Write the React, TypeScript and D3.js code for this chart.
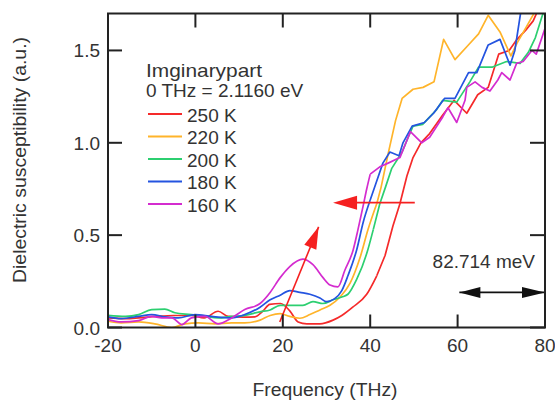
import React from 'react';
import * as d3 from 'd3';

const xTicks = [-20, 0, 20, 40, 60, 80];
const yTicks = [0, 0.5, 1.0, 1.5];
const yTickLabels = ['0.0', '0.5', '1.0', '1.5'];
const legendTitle = ['Imginarypart', '0 THz = 2.1160 eV'];
const seriesNames = ['250 K', '220 K', '200 K', '180 K', '160 K'];
const seriesColors = ['#f52a2a', '#ffb42a', '#2ccf70', '#2454e0', '#d42ccf'];
const xTitle = 'Frequency (THz)';
const yTitle = 'Dielectric susceptibility (a.u.)';
const energyLabel = '82.714 meV';

const k250: [number, number][] = [[-20,0.052],[-16,0.048],[-13,0.052],[-9,0.06],[-5,0.065],[-1,0.065],[2,0.052],[5.2,0.088],[7.5,0.06],[11,0.056],[13.6,0.058],[15.5,0.09],[17,0.125],[19.5,0.13],[21.6,0.09],[23.5,0.03],[25.5,0.02],[28.5,0.02],[31.5,0.04],[33.5,0.065],[36,0.11],[39.2,0.18],[41.5,0.28],[43.4,0.39],[45.2,0.55],[46.8,0.67],[48.4,0.82],[49.8,0.92],[51.6,1.0],[53.6,1.05],[56.6,1.15],[59.2,1.23],[62.1,1.16],[64.6,1.26],[67,1.30],[69.4,1.48],[71.8,1.50],[73.6,1.56],[75.6,1.61],[77.3,1.66],[78.8,1.74]];
const k220: [number, number][] = [[-20,0.034],[-17,0.025],[-13,0.03],[-9.3,0.02],[-5.4,0.0],[-2.4,0.02],[0.7,0.025],[4.5,0.02],[8.3,0.025],[11.3,0.025],[14.8,0.04],[17.1,0.065],[19.4,0.075],[21.6,0.06],[23.9,0.05],[26.2,0.07],[28.5,0.095],[30.8,0.12],[33.1,0.165],[35.4,0.24],[37.7,0.38],[39.5,0.53],[41.5,0.67],[42.5,0.76],[44.1,0.94],[45.8,1.12],[47.3,1.24],[49.8,1.29],[52.1,1.30],[54.6,1.33],[56.8,1.56],[59.4,1.45],[62.1,1.52],[64.8,1.59],[67,1.69],[69.7,1.60],[72.2,1.47],[73.6,1.54],[75.8,1.63],[77.7,1.71],[78.5,1.75]];
const k200: [number, number][] = [[-20,0.066],[-16,0.06],[-13,0.07],[-10,0.097],[-7,0.10],[-4.7,0.08],[-1,0.07],[2.2,0.06],[5.2,0.052],[8.3,0.06],[11.3,0.066],[14.8,0.085],[17.1,0.095],[19.4,0.12],[21.6,0.12],[24.6,0.12],[26.9,0.14],[29.2,0.13],[31.5,0.15],[33.5,0.165],[34.9,0.18],[36.9,0.26],[39.2,0.40],[40.7,0.53],[42.2,0.67],[43.5,0.76],[44.9,0.86],[47.3,0.95],[48.7,1.03],[49.8,1.09],[52,1.10],[55.2,1.18],[56.6,1.23],[59.8,1.22],[62.8,1.33],[64.8,1.41],[68,1.41],[71.2,1.44],[74.3,1.43],[76.2,1.49],[77.8,1.57],[79.4,1.69],[80,1.72]];
const k180: [number, number][] = [[-20,0.058],[-17,0.048],[-13,0.06],[-10,0.07],[-7,0.058],[-3.9,0.052],[-0.1,0.07],[3.7,0.06],[8.3,0.052],[11.3,0.07],[14.8,0.11],[17.1,0.15],[19.4,0.175],[21.6,0.20],[23.9,0.19],[26.2,0.18],[28.5,0.16],[30,0.14],[31.8,0.155],[33.5,0.2],[34.9,0.28],[36.9,0.42],[38.4,0.57],[40,0.69],[41.3,0.78],[42.9,0.89],[44.5,0.95],[46.6,0.93],[47.5,1.0],[49.6,1.09],[52.4,1.11],[54.5,1.16],[57,1.24],[59.4,1.24],[62.5,1.38],[64.4,1.38],[67,1.53],[69.7,1.56],[72,1.42],[73.1,1.50],[74.4,1.70],[74.8,1.75]];
const k160: [number, number][] = [[-20,0.043],[-17,0.03],[-13,0.037],[-10,0.06],[-7.7,0.052],[-5.4,0.052],[-3.1,0.016],[-0.9,0.052],[2.2,0.06],[5.2,0.02],[8.3,0.052],[11.3,0.097],[14.8,0.13],[17.1,0.19],[19.4,0.27],[21.6,0.33],[24.6,0.37],[26.9,0.34],[29.2,0.27],[30.8,0.23],[32.6,0.22],[34.2,0.31],[36.1,0.42],[37.2,0.53],[38.4,0.66],[39.2,0.75],[40,0.83],[42.2,0.87],[44.1,0.89],[46.8,0.92],[49.2,1.06],[51.8,1.0],[53.6,1.03],[56.6,1.14],[57.8,1.19],[59.8,1.11],[61.7,1.23],[62.1,1.30],[64,1.33],[65.6,1.30],[67.4,1.28],[69.2,1.34],[70.1,1.38],[72,1.34],[73.5,1.43],[75,1.44],[77,1.50],[78,1.48],[79.3,1.57],[80,1.62]];

const seriesData = [k250, k220, k200, k180, k160];
// frequency above which the measured curves are drawn as straight segments
const jaggedFrom = 40;

// annotation anchors (data units)
const shiftArrow = { from: [50.2, 0.676], to: [31.5, 0.676] };
const peakArrow = { from: [19.3, 0.03], to: [28.2, 0.545] };
const energyArrow = { from: [60.4, 0.19], to: [80, 0.19], labelAt: [66, 0.32] };

const W = 555, H = 401;
const L = 108, R = 545, T = 13.5, B = 327.5;
const FONT = '"Liberation Sans", Arial, sans-serif';
const TXT = '#333';

function arrowHead(tip: [number, number], from: [number, number], len: number, half: number) {
  const dx = tip[0] - from[0], dy = tip[1] - from[1];
  const d = Math.hypot(dx, dy);
  const ux = dx / d, uy = dy / d;
  const bx = tip[0] - ux * len, by = tip[1] - uy * len;
  const px = -uy, py = ux;
  return `M${tip[0]},${tip[1]}L${bx + px * half},${by + py * half}L${bx - px * half},${by - py * half}Z`;
}

export default function App() {
  const x = d3.scaleLinear().domain([-20, 80]).range([L, R]);
  const y = d3.scaleLinear().domain([0, 1.7]).range([B, T]);
  const smooth = d3.line<[number, number]>().x(d => x(d[0])).y(d => y(d[1])).curve(d3.curveMonotoneX);
  const straight = d3.line<[number, number]>().x(d => x(d[0])).y(d => y(d[1])).curve(d3.curveLinear);

  const sa1: [number, number] = [x(shiftArrow.from[0]), y(shiftArrow.from[1])];
  const sa2: [number, number] = [x(shiftArrow.to[0]), y(shiftArrow.to[1])];
  const pa1: [number, number] = [x(peakArrow.from[0]), y(peakArrow.from[1])];
  const pa2: [number, number] = [x(peakArrow.to[0]), y(peakArrow.to[1])];
  const ea1: [number, number] = [x(energyArrow.from[0]), y(energyArrow.from[1])];
  const ea2: [number, number] = [x(energyArrow.to[0]), y(energyArrow.to[1])];

  const legY0 = 114, legDy = 22.5;

  return (
    <svg width={W} height={H} style={{ position: 'absolute', left: 0, top: 0, background: '#fff' }} fontFamily={FONT}>
      <defs>
        <clipPath id="plotclip"><rect x={L} y={T} width={R - L} height={B - T} /></clipPath>
      </defs>
      <rect x={0} y={0} width={W} height={H} fill="#fff" />
      <g clipPath="url(#plotclip)">
        {seriesData.map((s, i) => {
          const idx = s.findIndex(p => p[0] >= jaggedFrom);
          const low = s.slice(0, idx + 1);
          const high = s.slice(idx);
          return (
            <g key={i}>
              <path d={smooth(low) || ''} fill="none" stroke={seriesColors[i]} strokeWidth={1.7} strokeLinejoin="round" />
              <path d={straight(high) || ''} fill="none" stroke={seriesColors[i]} strokeWidth={1.7} strokeLinejoin="round" />
            </g>
          );
        })}
      </g>
      {/* red annotation arrows */}
      <line x1={sa1[0]} y1={sa1[1]} x2={sa2[0] + 20} y2={sa2[1]} stroke="#f52020" strokeWidth={1.6} />
      <path d={arrowHead(sa2, sa1, 24, 7)} fill="#f52020" />
      <line x1={pa1[0]} y1={pa1[1]} x2={pa2[0]} y2={pa2[1]} stroke="#f52020" strokeWidth={1.6} />
      <path d={arrowHead(pa2, pa1, 22, 6.5)} fill="#f52020" />
      {/* energy double arrow */}
      <line x1={ea1[0]} y1={ea1[1]} x2={ea2[0]} y2={ea2[1]} stroke="#111" strokeWidth={1.6} />
      <path d={arrowHead(ea1, ea2, 21, 5.5)} fill="#111" />
      <path d={arrowHead(ea2, ea1, 23, 5.5)} fill="#111" />
      <text x={x(energyArrow.labelAt[0])} y={y(energyArrow.labelAt[1])} fontSize={19} fill={TXT} textAnchor="middle">{energyLabel}</text>

      {/* frame */}
      <rect x={L} y={T} width={R - L} height={B - T} fill="none" stroke="#222" strokeWidth={2} />
      {xTicks.map(t => (
        <g key={'xt' + t}>
          <line x1={x(t)} x2={x(t)} y1={B} y2={B - 13} stroke="#222" strokeWidth={2} />
          <line x1={x(t)} x2={x(t)} y1={T} y2={T + 14} stroke="#222" strokeWidth={2} />
          <text x={x(t)} y={352} fontSize={19} fill={TXT} textAnchor="middle">{t}</text>
        </g>
      ))}
      {yTicks.map((t, i) => (
        <g key={'yt' + t}>
          <line x1={L} x2={L + 14} y1={y(t)} y2={y(t)} stroke="#222" strokeWidth={2} />
          <line x1={R} x2={R - 15} y1={y(t)} y2={y(t)} stroke="#222" strokeWidth={2} />
          <text x={100} y={y(t) + 7} fontSize={19} fill={TXT} textAnchor="end">{yTickLabels[i]}</text>
        </g>
      ))}

      {/* legend */}
      <text x={146} y={77} fontSize={19} fill={TXT} textLength={116} lengthAdjust="spacingAndGlyphs">{legendTitle[0]}</text>
      <text x={146} y={97} fontSize={19} fill={TXT}>{legendTitle[1]}</text>
      {seriesNames.map((n, i) => (
        <g key={n}>
          <line x1={148} x2={182} y1={legY0 + i * legDy} y2={legY0 + i * legDy} stroke={seriesColors[i]} strokeWidth={2} />
          <text x={187} y={legY0 + i * legDy + 7.5} fontSize={19} fill={TXT}>{n}</text>
        </g>
      ))}

      {/* axis titles */}
      <text x={325} y={396} fontSize={18} fill={TXT} textAnchor="middle" textLength={145} lengthAdjust="spacingAndGlyphs">{xTitle}</text>
      <text transform="translate(26,160) rotate(-90)" fontSize={18} fill={TXT} textAnchor="middle" textLength={246} lengthAdjust="spacingAndGlyphs">{yTitle}</text>
    </svg>
  );
}
